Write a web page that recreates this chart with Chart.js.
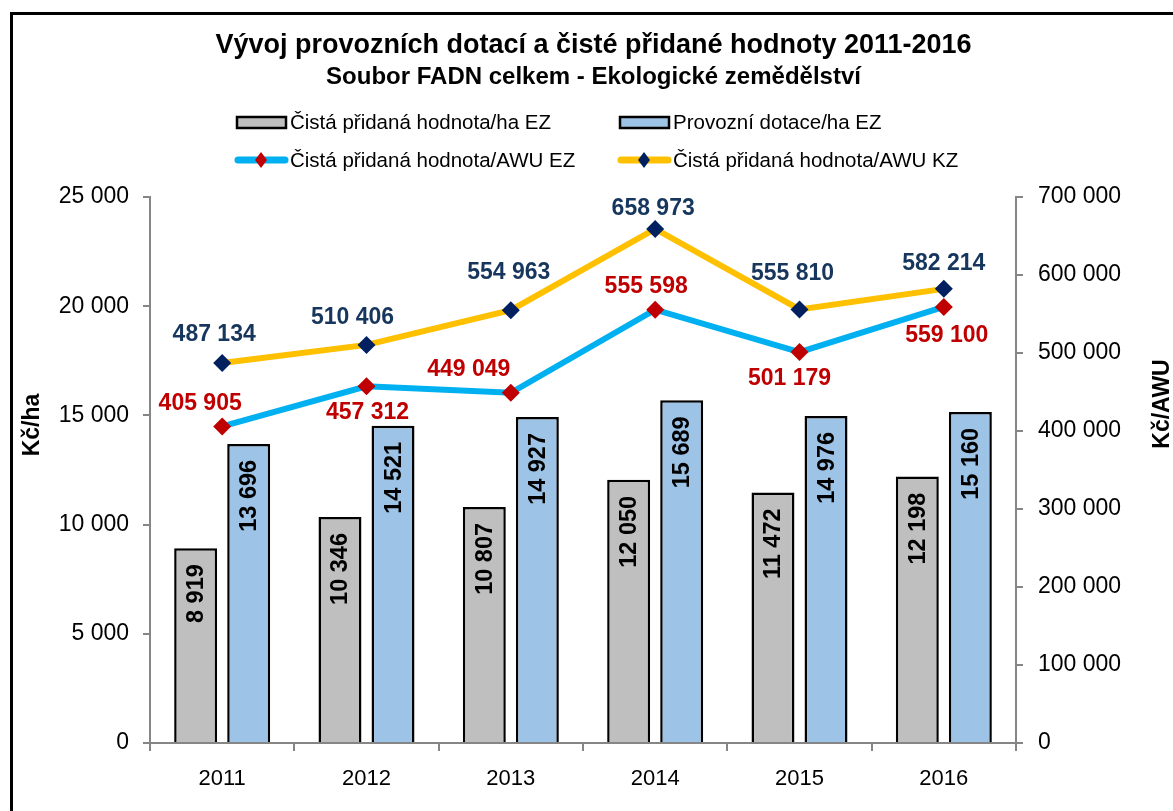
<!DOCTYPE html>
<html>
<head>
<meta charset="utf-8">
<script src="https://cdn.jsdelivr.net/npm/chart.js@4.4.1/dist/chart.umd.min.js"></script>
<style>
  html, body { margin: 0; padding: 0; background: #ffffff; }
  #wrap { width: 1173px; height: 811px; position: relative; }
</style>
</head>
<body>
<div id="wrap"><canvas id="c" width="1173" height="811"></canvas></div>
<script>
// ---- data ----
const categories = ['2011', '2012', '2013', '2014', '2015', '2016'];
const cphHa = [8919, 10346, 10807, 12050, 11472, 12198];          // Čistá přidaná hodnota/ha EZ
const dotaceHa = [13696, 14521, 14927, 15689, 14976, 15160];      // Provozní dotace/ha EZ
const cphAwuEZ = [405905, 457312, 449049, 555598, 501179, 559100]; // Čistá přidaná hodnota/AWU EZ
const cphAwuKZ = [487134, 510406, 554963, 658973, 555810, 582214]; // Čistá přidaná hodnota/AWU KZ
const leftTicks = [0, 5000, 10000, 15000, 20000, 25000];
const rightTicks = [0, 100000, 200000, 300000, 400000, 500000, 600000, 700000];

const seriesNames = [
  'Čistá přidaná hodnota/ha EZ',
  'Provozní dotace/ha EZ',
  'Čistá přidaná hodnota/AWU EZ',
  'Čistá přidaná hodnota/AWU KZ'
];

// ---- style (label placement relative to each point, in px) ----
const offsEZ = [[-22, -23], [1, 26], [-42, -23], [-9, -23], [-10, 27], [3, 29]];
const offsKZ = [[-8, -28], [-14, -27], [-2, -37], [-2, -20], [-7, -36], [0, -25]];

const FONT = '"Liberation Sans", Arial, sans-serif';
const fmt = v => String(v).replace(/\B(?=(\d{3})+(?!\d))/g, ' ');

const framePlugin = {
  id: 'frame',
  beforeDraw(chart) {
    const ctx = chart.ctx;
    ctx.save();
    ctx.fillStyle = '#ffffff';
    ctx.fillRect(0, 0, chart.width, chart.height);
    ctx.strokeStyle = '#000000';
    ctx.lineWidth = 3;
    ctx.strokeRect(11.5, 13.5, 1200, 900);
    ctx.restore();
  }
};

const legendPlugin = {
  id: 'gridLegend',
  afterDraw(chart) {
    const ctx = chart.ctx;
    const ds = chart.data.datasets;
    const pos = [[235, 122], [618, 122], [235, 160], [618, 160]];
    ctx.save();
    ds.forEach((d, i) => {
      const [x, y] = pos[i];
      if (d.type === 'line') {
        ctx.strokeStyle = d.borderColor;
        ctx.lineWidth = 7;
        ctx.lineCap = 'round';
        ctx.beginPath(); ctx.moveTo(x + 3, y); ctx.lineTo(x + 50, y); ctx.stroke();
        ctx.fillStyle = d.pointBackgroundColor;
        ctx.beginPath();
        ctx.moveTo(x + 26, y - 8); ctx.lineTo(x + 32, y); ctx.lineTo(x + 26, y + 8); ctx.lineTo(x + 20, y);
        ctx.closePath(); ctx.fill();
      } else {
        ctx.fillStyle = d.backgroundColor;
        ctx.strokeStyle = '#000000';
        ctx.lineWidth = 2.5;
        ctx.fillRect(x + 2, y - 5, 49, 11);
        ctx.strokeRect(x + 2, y - 5, 49, 11);
      }
      ctx.fillStyle = '#000000';
      ctx.font = '20.5px ' + FONT;
      ctx.textAlign = 'left';
      ctx.textBaseline = 'middle';
      ctx.fillText(d.label, x + 55, y + 1);
    });
    ctx.restore();
  }
};

const axisTitlePlugin = {
  id: 'axisTitles',
  afterDraw(chart) {
    const ctx = chart.ctx;
    ctx.save();
    ctx.fillStyle = '#000000';
    ctx.font = 'bold 23px ' + FONT;
    ctx.textAlign = 'center';
    ctx.textBaseline = 'middle';
    ctx.translate(33, 425); ctx.rotate(-Math.PI / 2); ctx.fillText('Kč/ha', 0, 0);
    ctx.setTransform(1, 0, 0, 1, 0, 0);
    ctx.translate(1163, 404); ctx.rotate(-Math.PI / 2); ctx.fillText('Kč/AWU', 0, 0);
    ctx.restore();
  }
};

const valueLabelPlugin = {
  id: 'valueLabels',
  afterDatasetsDraw(chart) {
    const ctx = chart.ctx;
    ctx.save();
    chart.data.datasets.forEach((d, i) => {
      const meta = chart.getDatasetMeta(i);
      meta.data.forEach((el, j) => {
        const txt = fmt(d.data[j]);
        if (d.type === 'line') {
          const o = i === 2 ? offsEZ[j] : offsKZ[j];
          ctx.font = 'bold 23px ' + FONT;
          ctx.fillStyle = i === 2 ? '#C00000' : '#17365D';
          ctx.textAlign = 'center';
          ctx.textBaseline = 'middle';
          ctx.fillText(txt, el.x + o[0], el.y + o[1]);
        } else {
          ctx.save();
          ctx.font = 'bold 23.5px ' + FONT;
          ctx.fillStyle = '#000000';
          ctx.translate(el.x + 1, el.y + 16);
          ctx.rotate(-Math.PI / 2);
          ctx.textAlign = 'right';
          ctx.textBaseline = 'middle';
          ctx.fillText(txt, 0, 0);
          ctx.restore();
        }
      });
    });
    ctx.restore();
  }
};

const axisGray = '#868686';

new Chart(document.getElementById('c'), {
  type: 'bar',
  data: {
    labels: categories,
    datasets: [
      { type: 'bar', label: seriesNames[0], data: cphHa, yAxisID: 'y', order: 2,
        backgroundColor: '#BFBFBF', borderColor: '#000000', borderWidth: 2.5,
        barPercentage: 0.81, categoryPercentage: 0.735 },
      { type: 'bar', label: seriesNames[1], data: dotaceHa, yAxisID: 'y', order: 2,
        backgroundColor: '#9DC3E6', borderColor: '#000000', borderWidth: 2.5,
        barPercentage: 0.81, categoryPercentage: 0.735 },
      { type: 'line', label: seriesNames[2], data: cphAwuEZ, yAxisID: 'y1', order: 1,
        borderColor: '#00B0F0', borderWidth: 6, tension: 0,
        pointStyle: 'rectRot', pointRadius: 9, pointBackgroundColor: '#C00000',
        pointBorderColor: '#C00000', pointBorderWidth: 0 },
      { type: 'line', label: seriesNames[3], data: cphAwuKZ, yAxisID: 'y1', order: 0,
        borderColor: '#FFC000', borderWidth: 6, tension: 0,
        pointStyle: 'rectRot', pointRadius: 9, pointBackgroundColor: '#002060',
        pointBorderColor: '#002060', pointBorderWidth: 0 }
    ]
  },
  options: {
    responsive: false,
    animation: false,
    events: [],
    layout: { padding: { left: 14, right: 0, top: 0, bottom: 0 } },
    plugins: {
      legend: { display: false },
      tooltip: { enabled: false },
      title: {
        display: true,
        text: 'Vývoj provozních dotací a čisté přidané hodnoty 2011-2016',
        color: '#000000',
        font: { family: FONT, size: 27, weight: 'bold', lineHeight: 1.2 },
        padding: { top: 29, bottom: 2 }
      },
      subtitle: {
        display: true,
        text: 'Soubor FADN celkem - Ekologické zemědělství',
        color: '#000000',
        font: { family: FONT, size: 24, weight: 'bold', lineHeight: 1.2 },
        padding: { top: 0, bottom: 104.8 }
      }
    },
    scales: {
      x: {
        grid: { display: true, drawOnChartArea: false, drawTicks: true, tickLength: 8,
                color: axisGray, lineWidth: 2, offset: true },
        border: { display: true, color: axisGray, width: 2 },
        ticks: { color: '#000000', font: { family: FONT, size: 22 }, padding: 15 },
        afterFit(s) { s.height = 68; }
      },
      y: {
        position: 'left',
        min: 0, max: 25000,
        afterBuildTicks(s) { s.ticks = leftTicks.map(v => ({ value: v })); },
        grid: { display: true, drawOnChartArea: false, drawTicks: true, tickLength: 7,
                color: axisGray, lineWidth: 2 },
        border: { display: true, color: axisGray, width: 2 },
        ticks: { color: '#000000', font: { family: FONT, size: 23 }, padding: 14,
                 callback: v => fmt(v) },
        afterFit(s) { s.width = 136; }
      },
      y1: {
        position: 'right',
        min: 0, max: 700000,
        afterBuildTicks(s) { s.ticks = rightTicks.map(v => ({ value: v })); },
        grid: { display: true, drawOnChartArea: false, drawTicks: true, tickLength: 7,
                color: axisGray, lineWidth: 2 },
        border: { display: true, color: axisGray, width: 2 },
        ticks: { color: '#000000', font: { family: FONT, size: 23 }, padding: 15,
                 callback: v => fmt(v) },
        afterFit(s) { s.width = 157; }
      }
    }
  },
  plugins: [framePlugin, legendPlugin, axisTitlePlugin, valueLabelPlugin]
});
</script>
</body>
</html>
